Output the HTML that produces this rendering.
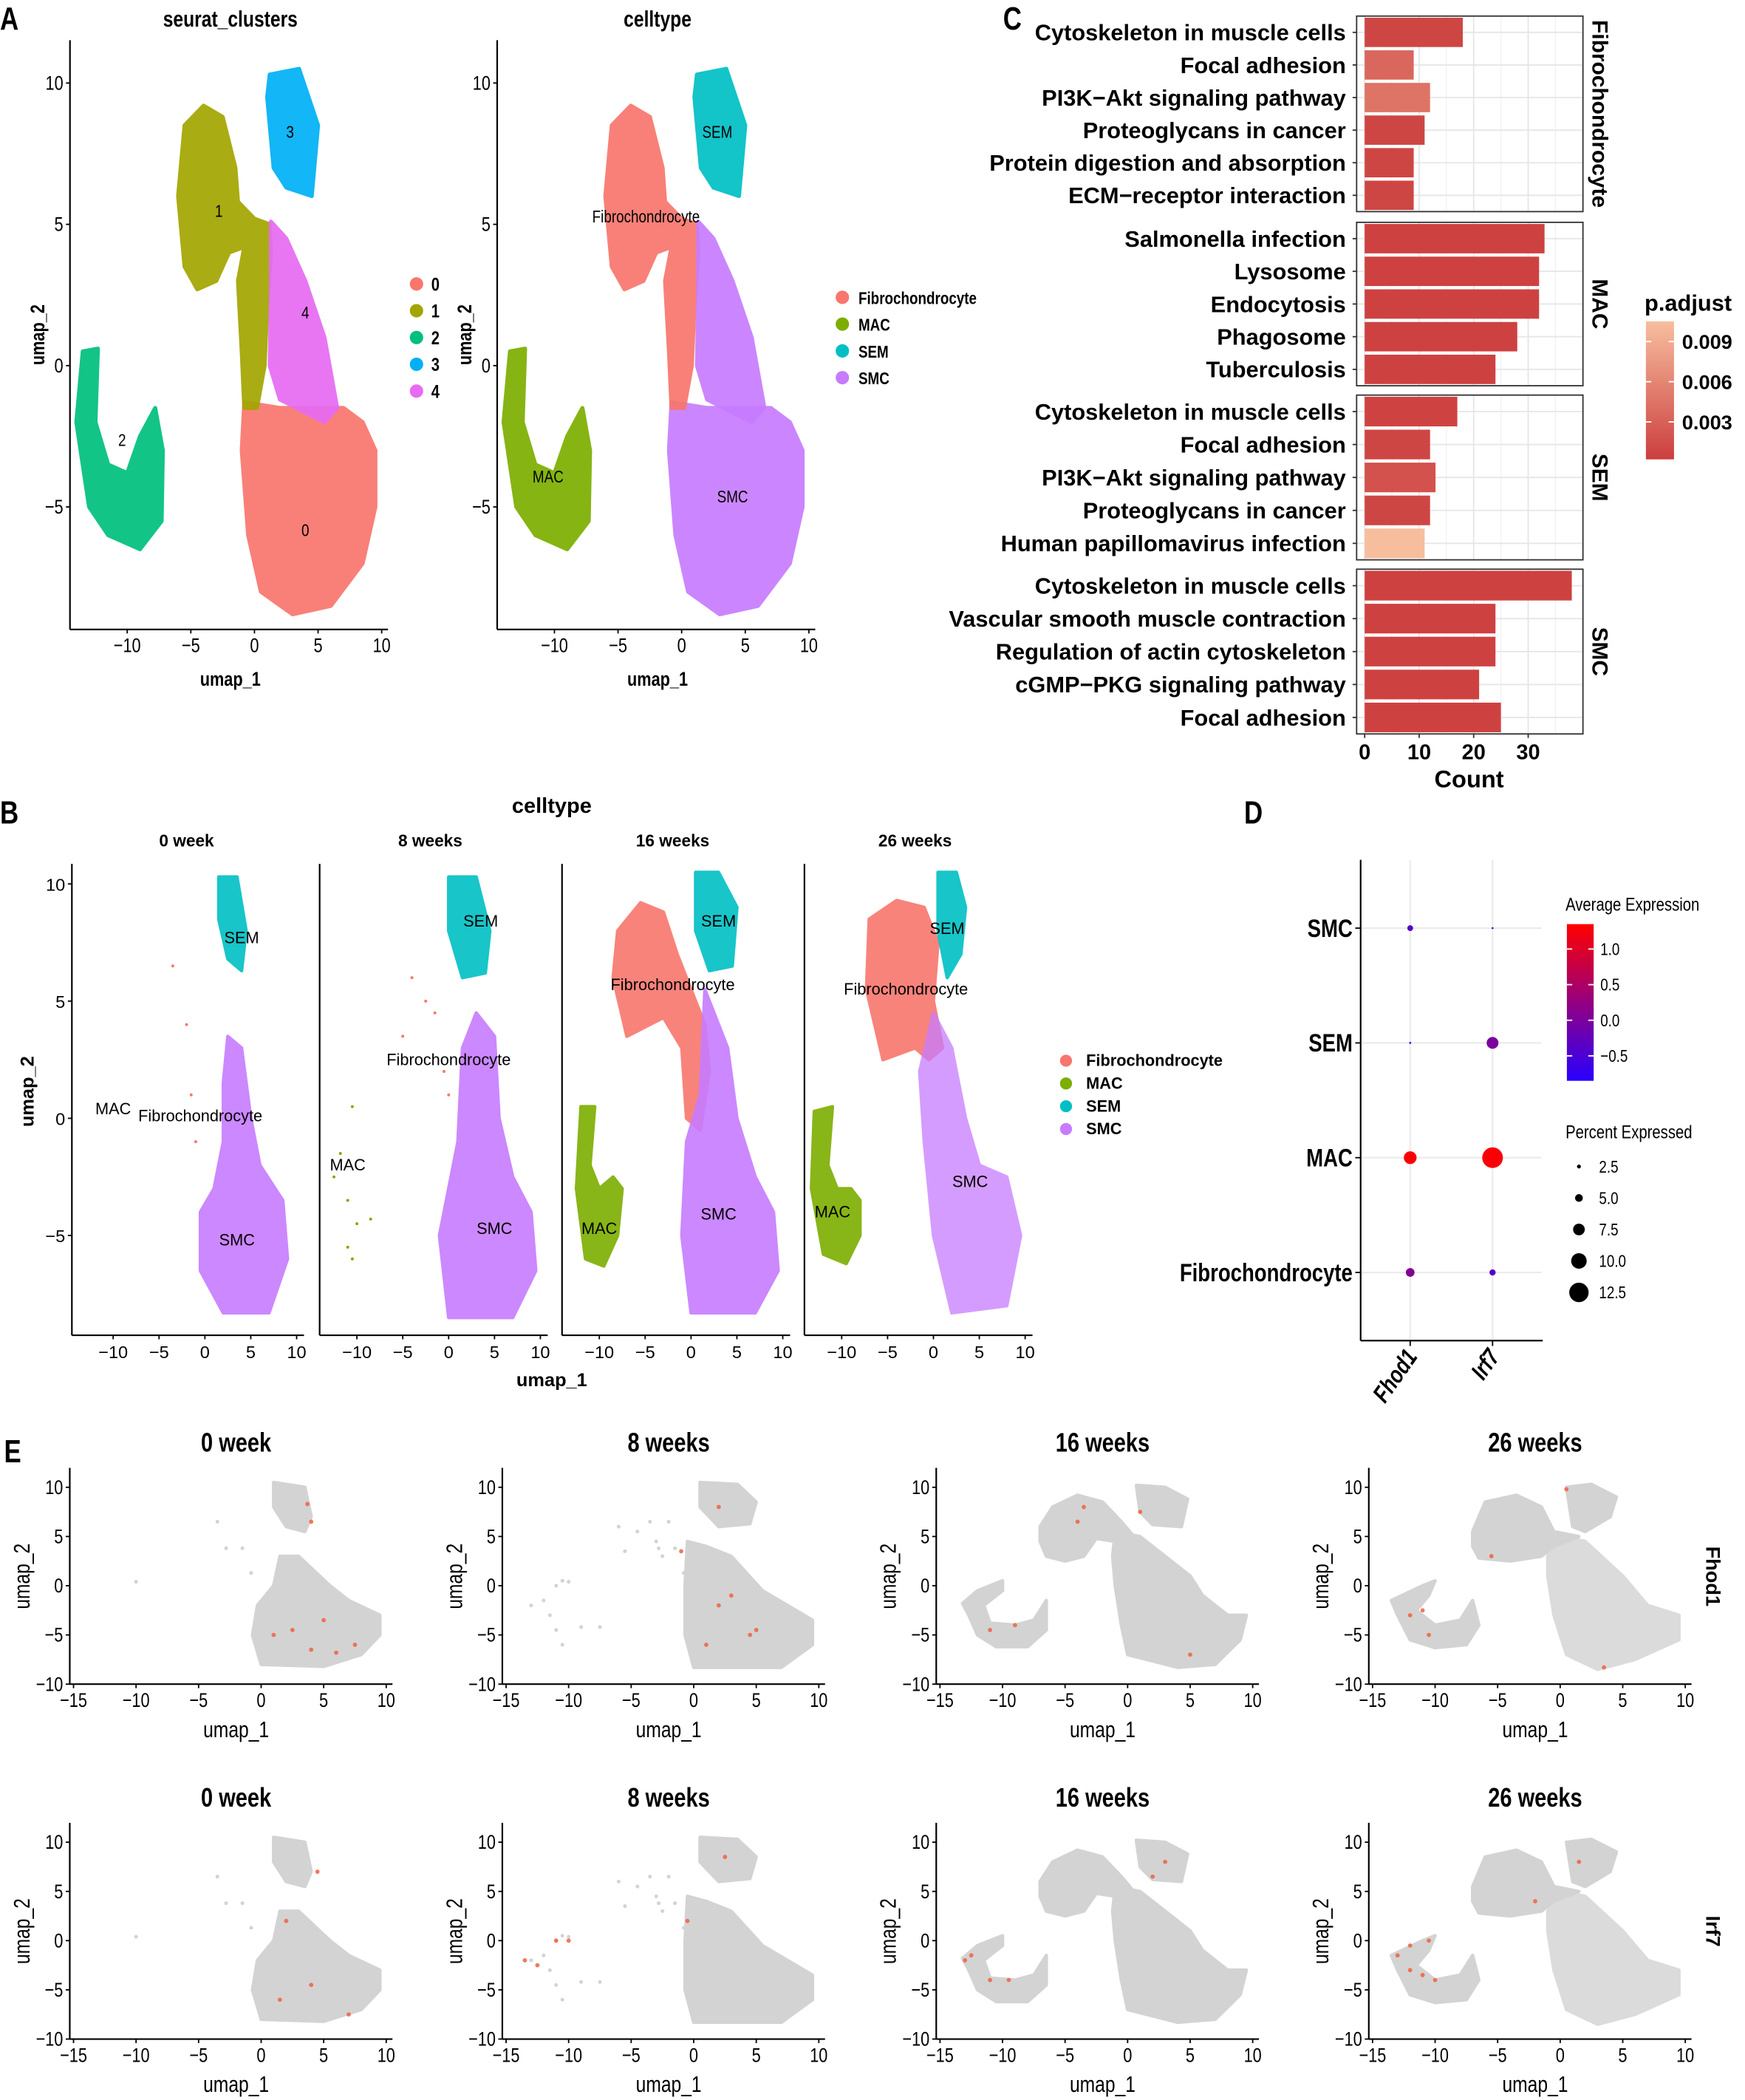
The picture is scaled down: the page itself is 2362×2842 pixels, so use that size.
<!DOCTYPE html>
<html><head><meta charset="utf-8">
<style>
html,body{margin:0;padding:0;background:#fff}
svg{display:block}
text{font-family:"Liberation Sans",sans-serif}
.n{font-family:"Liberation Sans Narrow","Liberation Sans",sans-serif}
</style></head>
<body>
<svg id="fig" xmlns="http://www.w3.org/2000/svg" width="2362" height="2842" viewBox="0 0 1303 1568" preserveAspectRatio="none">
<rect width="1303" height="1568" fill="#fff"/>
</svg>
<script>
// ---------- data ----------
const clusterNames = ["0","1","2","3","4"];
const clusterColors = ["#F8766D","#A3A500","#00BF7D","#00B0F6","#E76BF3"];
const cellTypes = ["Fibrochondrocyte","MAC","SEM","SMC"];
const cellColors = ["#F8766D","#7CAE00","#00BFC4","#C77CFF"];
const shapeA0 = [[-0.8,-1.3],[2,-1.5],[5,-1.5],[7,-1.5],[8.5,-2],[9.5,-3],[9.5,-5],[8.5,-7],[6,-8.5],[3,-8.8],[0.5,-8],[-0.5,-6],[-1,-3]];
const shapeA1 = [[-5.5,8.5],[-4,9.2],[-2.5,8.8],[-1.5,7],[-1.3,5.8],[0,5.2],[1.2,5],[1.3,4],[1,2],[0.8,0],[0.2,-1.5],[-0.8,-1.5],[-1,0.5],[-1.3,3],[-0.8,4.2],[-2,4],[-3,3],[-4.5,2.7],[-5.5,3.5],[-6,6]];
const shapeA2 = [[-13.5,0.5],[-12.3,0.6],[-12.5,-2],[-11.5,-3.5],[-10,-3.8],[-9,-2.5],[-7.8,-1.5],[-7.2,-3],[-7.3,-5.5],[-9,-6.5],[-11.5,-6],[-13,-5],[-14,-2]];
const shapeA3 = [[1.2,10.3],[3.5,10.5],[5,8.5],[4.5,6],[2.5,6.3],[1.5,7],[1,9.5]];
const shapeA4 = [[1.3,5.1],[2.5,4.5],[4,3],[5.5,1],[6.5,-1.5],[5.5,-2],[2,-1.2],[1.2,0],[1.3,2.5]];
const clusterShapes = [shapeA0,shapeA1,shapeA2,shapeA3,shapeA4];
const cellOfCluster = [3,0,1,2,3];
const timepoints = ["0 week","8 weeks","16 weeks","26 weeks"];
const shapesB = [
 [[2,[[1.5,10.3],[3.5,10.3],[4.5,8],[4,6.3],[2.5,6.8],[1.5,8.5]]],
  [3,[[2.5,3.5],[4,3],[5,0],[6,-2],[8.5,-3.5],[9,-6],[7,-8.3],[2,-8.3],[-0.5,-6.5],[-0.5,-4],[1,-3],[2,-1],[2,1.5]]]],
 [[2,[[0,10.3],[3,10.3],[4.5,8],[4,6.2],[1.5,6],[0,8]]],
  [3,[[3,4.5],[5,3.5],[5.5,0],[7,-2.5],[9,-4],[9.5,-6.5],[7,-8.5],[0,-8.5],[-1,-5],[0,-3],[1,-1],[1.5,3]]]],
 [[0,[[-8,8],[-5.5,9.2],[-3,8.8],[-1.5,7],[0,5.5],[1.5,4],[2,2],[1,-0.5],[-0.5,0],[-1,3],[-3,4.3],[-7,3.5],[-8.5,6]]],
  [2,[[0.5,10.5],[3,10.5],[5,9],[4.5,6.5],[2,6.3],[0.5,8]]],
  [3,[[1.5,5.5],[4,3],[5,0],[7,-2.5],[9,-4],[9.5,-6.5],[7,-8.3],[0,-8.3],[-1,-5],[-0.5,-1],[1,1]]],
  [1,[[-12,0.5],[-10.5,0.5],[-11,-2],[-10,-3],[-8.5,-2.5],[-7.5,-3],[-8,-5],[-9.5,-6.3],[-11.5,-6],[-12.5,-3]]]],
 [[0,[[-7,8.5],[-4,9.3],[-1,9],[0.5,7.5],[0,5],[1,3],[-0.5,2.5],[-2,3],[-5.5,2.5],[-7.3,5.5]]],
  [2,[[0.5,10.5],[2.5,10.5],[3.5,9],[3,7],[1.5,6],[0.5,8]]],
  [3,[[0,4.5],[2,3],[3.5,0],[5,-2],[8,-2.5],[9.5,-5],[8,-8],[2,-8.3],[0,-5],[-1,-1],[-1.5,2]]],
  [1,[[-13,0.3],[-11,0.5],[-11.5,-2],[-10.5,-3],[-9,-3],[-8,-3.5],[-8,-5],[-9.5,-6.2],[-12,-5.8],[-13.3,-3]]]]
];
const labelsB = [
 [["SEM",4,7.7],["MAC",-10,0.4],["Fibrochondrocyte",-0.5,0.1],["SMC",3.5,-5.2]],
 [["SEM",3.5,8.4],["Fibrochondrocyte",0,2.5],["MAC",-11,-2],["SMC",5,-4.7]],
 [["SEM",3,8.4],["Fibrochondrocyte",-2,5.7],["MAC",-10,-4.7],["SMC",3,-4.1]],
 [["SEM",1.5,8.1],["Fibrochondrocyte",-3,5.5],["MAC",-11,-4],["SMC",4,-2.7]]
];
const shapesE = [
 [[[1,10.5],[3.5,10],[4,7],[3.5,5.5],[2,6],[1,8]],[[1.5,3],[3,3],[5.5,0],[7,-1.5],[9.5,-3],[9.5,-5],[8,-7],[5,-8.2],[0,-8],[-0.7,-5],[-0.3,-2],[1,0]]],
 [[[0.5,10.5],[3.5,10.3],[5,8.5],[4.5,6.3],[2,6],[0.5,8]],[[-0.5,4.5],[1,4],[3,3],[5.5,-0.5],[9.5,-3.5],[9.5,-6],[7,-8.3],[0,-8.3],[-0.7,-5],[-0.7,0]]],
 [[[-13.2,-1.8],[-12,-0.5],[-10,0.5],[-10,-0.5],[-11.5,-2],[-11,-3.8],[-9,-4],[-7.5,-3.5],[-6.5,-1.5],[-6.5,-4.5],[-8,-6.2],[-10.5,-6.2],[-12,-5],[-12.7,-3]],
  [[-7,6],[-6,8],[-4,9.2],[-2,8.5],[-0.5,6.5],[0.5,5],[-1,4.5],[-2.5,4.8],[-3.5,3],[-5,2.5],[-6.5,3],[-7,4.5]],
  [[0.7,10.2],[3,10],[4.8,8.8],[4.3,6],[2,6.2],[1,7.5]],
  [[-1,5.5],[1,5],[3,3],[5,1],[6,-1],[8,-3],[9.5,-3],[9,-5.5],[7,-8],[4,-8.3],[0,-7],[-0.5,-4],[-1,0],[-1.2,3]]],
 [[[-13.5,-1.5],[-11,0],[-10,0.5],[-10.5,-1],[-11.5,-2.5],[-10,-4],[-8,-3.5],[-7,-1.5],[-6.5,-4],[-7.5,-6],[-10,-6.3],[-12,-5.5],[-13,-3]],
  [[-7,5.5],[-6,8.5],[-3.5,9.2],[-1.5,8],[-0.5,5.5],[1.5,5],[-0.5,4],[-1.5,3],[-4,2.5],[-6.5,2.8],[-7,4]],
  [[0.5,10],[2.5,10.3],[4.5,9],[4,7],[2,5.5],[1,6]],
  [[0,5],[2,4.5],[5,1],[7,-2],[9.5,-3],[9.5,-5.5],[6,-7.5],[3,-8.5],[0.5,-7],[-0.5,-3],[-1,1],[-1,3]]]
];
const genes = ["Fhod1","Irf7"];
const redDotsE = [
 [[[2.5,-4.5],[4,-6.5],[6,-6.8],[1,-5],[5,-3.5],[3.7,8.3],[4,6.5],[7.5,-6]],[[1.5,-6],[4.5,7],[2,2],[4,-4.5],[7,-7.5]]],
 [[[2,-2],[4.5,-5],[5,-4.5],[1,-6],[3,-1],[2,8],[-1,3.5]],[[-13.5,-2],[-12.5,-2.5],[-11,0],[-10,0],[-0.5,2],[2.5,8.5]]],
 [[[-4,6.5],[-11,-4.5],[-9,-4],[1,7.5],[-3.5,8],[5,-7]],[[-13,-2],[-12.5,-1.5],[-11,-4],[-9.5,-4],[3,8],[2,6.5]]],
 [[[0.5,9.8],[-12,-3],[-10.5,-5],[-11,-2.5],[-5.5,3],[3.5,-8.3]],[[-13,-1.5],[-12,-0.5],[-10.5,0],[-11,-3.5],[-10,-4],[-12,-3],[-2,4],[1.5,8]]]
];
const pathwaysFib = ["Cytoskeleton in muscle cells","Focal adhesion","PI3K\u2212Akt signaling pathway","Proteoglycans in cancer","Protein digestion and absorption","ECM\u2212receptor interaction"];
const countsFib = [18,9,12,11,9,9];
const padjFib = [0.0008,0.0035,0.0045,0.0008,0.0008,0.0008];
const pathwaysMac = ["Salmonella infection","Lysosome","Endocytosis","Phagosome","Tuberculosis"];
const countsMac = [33,32,32,28,24];
const padjMac = [0.0005,0.0005,0.0005,0.0005,0.0005];
const pathwaysSem = ["Cytoskeleton in muscle cells","Focal adhesion","PI3K\u2212Akt signaling pathway","Proteoglycans in cancer","Human papillomavirus infection"];
const countsSem = [17,12,13,12,11];
const padjSem = [0.0006,0.0008,0.0018,0.0008,0.0105];
const pathwaysSmc = ["Cytoskeleton in muscle cells","Vascular smooth muscle contraction","Regulation of actin cytoskeleton","cGMP\u2212PKG signaling pathway","Focal adhesion"];
const countsSmc = [38,24,24,21,25];
const padjSmc = [0.0005,0.0005,0.0005,0.0005,0.0005];
const countTicks = [0,10,20,30];
const padjTicks = [0.003,0.006,0.009];
const dotRows = ["SMC","SEM","MAC","Fibrochondrocyte"];
const avgExpFhod1 = [-0.4,-0.7,1.3,0.1];
const avgExpIrf7 = [-0.7,0.0,1.3,-0.4];
const pctFhod1 = [3.7,1.3,8.2,5.6];
const pctIrf7 = [1.2,7.6,13.3,4.0];
const expTicks = [1.0,0.5,0.0,-0.5];
const pctTicks = [2.5,5.0,7.5,10.0,12.5];

// ---------- helpers ----------
const NS="http://www.w3.org/2000/svg";
const svg=document.getElementById('fig');
function mk(tag,attrs,parent){const e=document.createElementNS(NS,tag);for(const k in attrs)e.setAttribute(k,attrs[k]);(parent||svg).appendChild(e);return e;}
function txt(s,x,y,opt,parent){const e=mk('text',Object.assign({x:x,y:y},opt||{}),parent);e.textContent=s;return e;}
function poly(pts,sx,sy){return 'M'+pts.map(p=>sx(p[0]).toFixed(1)+','+sy(p[1]).toFixed(1)).join('L')+'Z';}
function axes(g,sx,sy,xl,xr,yt,yb,xticks,yticks,fs,cls){
  let e=mk('line',{x1:xl,y1:yb,x2:xr,y2:yb,stroke:'#000','stroke-width':1.2},g);
  
  e=mk('line',{x1:xl,y1:yt,x2:xl,y2:yb,stroke:'#000','stroke-width':1.2},g);
  
  xticks.forEach(t=>{mk('line',{x1:sx(t),x2:sx(t),y1:yb,y2:yb+3,stroke:'#000'},g);
    const l=txt(String(t).replace('-','\u2212'),sx(t),yb+17,{'font-size':fs,'text-anchor':'middle',class:cls||''},g);
    });
  yticks.forEach(t=>{mk('line',{x1:xl-3,x2:xl,y1:sy(t),y2:sy(t),stroke:'#000'},g);
    const l=txt(String(t).replace('-','\u2212'),xl-5,sy(t)+5,{'font-size':fs,'text-anchor':'end',class:cls||''},g);
    });
}
function letter(s,x,y){const e=txt(s,x,y,{'font-size':24,'font-weight':'bold',class:'n'});}

// ---------- Panel A ----------
letter('A',0,22);
[0,1].forEach(pi=>{
  const g=mk('g',{});
  const x0=pi?509:190, sx=u=>x0+u*9.5, sy=v=>273-v*21.1;
  clusterShapes.forEach((s,i)=>{const col=pi?cellColors[cellOfCluster[i]]:clusterColors[i];
    const p=mk('path',{d:poly(s,sx,sy),fill:col,stroke:col,'stroke-width':3,'stroke-linejoin':'round',opacity:0.92},g);
    });
  axes(g,sx,sy,x0-14.5*9.5,x0+10.5*9.5,30,470,[-10,-5,0,5,10],[-5,0,5,10],15,'n');
  const t=txt(pi?'celltype':'seurat_clusters',x0-18,20,{'font-size':17,'font-weight':'bold','text-anchor':'middle',class:'n'},g);
  
  let l=txt('umap_1',x0-18,512,{'font-size':15,'font-weight':'bold','text-anchor':'middle',class:'n'},g);
  
  l=txt('umap_2',0,0,{'font-size':15,'font-weight':'bold','text-anchor':'middle',class:'n',transform:`translate(${x0-157},250) rotate(-90)`},g);
  
  if(!pi){
    [["0",4,-5.8],["1",-2.8,5.5],["2",-10.4,-2.6],["3",2.8,8.3],["4",4,1.9]].forEach(a=>{const e=txt(a[0],sx(a[1]),sy(a[2])+5,{'font-size':13,'text-anchor':'middle',class:'n'},g);});
    clusterNames.forEach((c,i)=>{const it=mk('g',{},g);
      mk('circle',{cx:311,cy:212+i*20,r:5,fill:clusterColors[i]},it);txt(c,322,217+i*20,{'font-size':14,'font-weight':'bold',class:'n'},it);});
  } else {
    [["SEM",2.8,8.3],["Fibrochondrocyte",-2.8,5.3],["MAC",-10.5,-3.9],["SMC",4,-4.6]].forEach(a=>{const e=txt(a[0],sx(a[1]),sy(a[2])+5,{'font-size':13,'text-anchor':'middle',class:'n'},g);});
    cellTypes.forEach((c,i)=>{const it=mk('g',{},g);
      mk('circle',{cx:629,cy:222+i*20,r:5,fill:cellColors[i]},it);txt(c,641,227+i*20,{'font-size':13,'font-weight':'bold',class:'n'},it);});
  }
});

// ---------- Panel B ----------
letter('B',0,615);
{
 const t=txt('celltype',412,607,{'font-size':16,'font-weight':'bold','text-anchor':'middle'});
 const bx=[153,335,516,697];
 timepoints.forEach((tp,i)=>{
  const g=mk('g',{});
  const x0=bx[i],sx=u=>x0+u*6.85,sy=v=>835-v*17.5;
  shapesB[i].forEach(s=>{const col=cellColors[s[0]];const p=mk('path',{d:poly(s[1],sx,sy),fill:col,stroke:col,'stroke-width':2.5,'stroke-linejoin':'round',opacity:i==3&&s[0]==3?0.75:0.9},g);
    });
  if(i==1){[[-11.8,-1.5],[-12.5,-2.5],[-11,-3.5],[-10,-4.5],[-8.5,-4.3],[-10.5,0.5],[-11,-5.5],[-10.5,-6]].forEach(d=>{const c=mk('circle',{cx:sx(d[0]),cy:sy(d[1]),r:1.1,fill:cellColors[1]},g);});
    [[-4,6],[-2.5,5],[-1.5,4.5],[-0.5,2],[0,1],[-5,3.5]].forEach(d=>{const c=mk('circle',{cx:sx(d[0]),cy:sy(d[1]),r:1.1,fill:cellColors[0]},g);});}
  if(i==0){[[-1.5,1],[-1,-1],[-3.5,6.5],[-2,4]].forEach(d=>{const c=mk('circle',{cx:sx(d[0]),cy:sy(d[1]),r:1.1,fill:cellColors[0]},g);});}
  axes(g,sx,sy,x0-14.5*6.85+(i?3:0),x0+10.8*6.85,645,997,[-10,-5,0,5,10],i==0?[-5,0,5,10]:[],13,'');
  const tt=txt(tp,sx(-2),632,{'font-size':12.5,'font-weight':'bold','text-anchor':'middle'},g);
  labelsB[i].forEach(a=>{const e=txt(a[0],sx(a[1]),sy(a[2])+4,{'font-size':12,'text-anchor':'middle'},g);});
 });
 let l=txt('umap_1',412,1035,{'font-size':14,'font-weight':'bold','text-anchor':'middle'});
 l=txt('umap_2',0,0,{'font-size':14,'font-weight':'bold','text-anchor':'middle',transform:'translate(25,815) rotate(-90)'});
 cellTypes.forEach((c,i)=>{const it=mk('g',{});
   mk('circle',{cx:796,cy:792+i*17,r:4.5,fill:cellColors[i]},it);txt(c,811,796+i*17,{'font-size':12,'font-weight':'bold'},it);});
}

// ---------- Panel C ----------
letter('C',749,22);
{
 const cx0=1019, cs=4.07, sxc=v=>cx0+v*cs, pxr=1182;
 function padjColor(p){const t=Math.min(1,Math.max(0,p/0.0105));const a=[203,60,60],b=[247,190,158];return `rgb(${a.map((c,i)=>Math.round(c+(b[i]-c)*t)).join(',')})`;}
 const facets=[["Fibrochondrocyte",pathwaysFib,countsFib,padjFib,12,158],["MAC",pathwaysMac,countsMac,padjMac,166,288],["SEM",pathwaysSem,countsSem,padjSem,295,418],["SMC",pathwaysSmc,countsSmc,padjSmc,425,548]];
 facets.forEach(f=>{
  const g=mk('g',{});
  const top=f[4],bot=f[5],n=f[1].length,step=(bot-top)/n;
  [5,15,25,35].forEach(t=>mk('line',{x1:sxc(t),x2:sxc(t),y1:top,y2:bot,stroke:'#F2F2F2','stroke-width':0.8},g));
  countTicks.forEach(t=>mk('line',{x1:sxc(t),x2:sxc(t),y1:top,y2:bot,stroke:'#E6E6E6','stroke-width':1},g));
  f[1].forEach((name,i)=>{const cy=top+step*(i+0.5);
    mk('line',{x1:1013,x2:pxr,y1:cy,y2:cy,stroke:'#E6E6E6'},g);
    const r=mk('rect',{x:sxc(0),y:cy-step*0.45,width:sxc(f[2][i])-sxc(0),height:step*0.9,fill:padjColor(f[3][i])},g);
    
    const l=txt(name,1005,cy+6,{'font-size':17,'font-weight':'bold','text-anchor':'end'},g);
    mk('line',{x1:1010,x2:1013,y1:cy,y2:cy,stroke:'#333'},g);
  });
  mk('rect',{x:1013,y:top,width:pxr-1013,height:bot-top,fill:'none',stroke:'#333','stroke-width':1},g);
  const s=txt(f[0],0,0,{'font-size':16.5,'font-weight':'bold','text-anchor':'middle',transform:`translate(${pxr+7},${(top+bot)/2}) rotate(90)`},g);
  
 });
 countTicks.forEach(t=>{mk('line',{x1:sxc(t),x2:sxc(t),y1:548,y2:551,stroke:'#333'});const l=txt(String(t),sxc(t),567,{'font-size':16,'font-weight':'bold','text-anchor':'middle'});});
 let l=txt('Count',1097,588,{'font-size':18,'font-weight':'bold','text-anchor':'middle'});
 const lg=mk('g',{});
 const defs=mk('defs',{},lg);const gr=mk('linearGradient',{id:'pg',x1:0,y1:1,x2:0,y2:0},defs);
 mk('stop',{offset:0,'stop-color':padjColor(0.0002)},gr);mk('stop',{offset:1,'stop-color':padjColor(0.0105)},gr);
 mk('rect',{x:1229,y:240,width:21,height:103,fill:'url(#pg)'},lg);
 txt('p.adjust',1228,232,{'font-size':17,'font-weight':'bold'},lg);
 const py=p=>343-(p-0.0002)/(0.0105-0.0002)*103;
 padjTicks.forEach(p=>{mk('line',{x1:1229,x2:1233,y1:py(p),y2:py(p),stroke:'#fff'},lg);mk('line',{x1:1246,x2:1250,y1:py(p),y2:py(p),stroke:'#fff'},lg);
   const e=txt(p.toFixed(3),1256,py(p)+5.5,{'font-size':15,'font-weight':'bold'},lg);});
}

// ---------- Panel D ----------
letter('D',929,615);
{
 const g=mk('g',{});
 const rowY=i=>693+i*85.7, colX=j=>1053+j*61.5;
 dotRows.forEach((r,i)=>{mk('line',{x1:1016,x2:1151,y1:rowY(i),y2:rowY(i),stroke:'#EBEBEB','stroke-width':1.2},g);
   mk('line',{x1:1012,x2:1016,y1:rowY(i),y2:rowY(i),stroke:'#000'},g);
   const l=txt(r,1010,rowY(i)+6.5,{'font-size':19,'font-weight':'bold','text-anchor':'end',class:'n'},g);});
 genes.forEach((gn,j)=>{mk('line',{x1:colX(j),x2:colX(j),y1:642,y2:1001,stroke:'#EBEBEB','stroke-width':1.2},g);
   mk('line',{x1:colX(j),x2:colX(j),y1:1001,y2:1005,stroke:'#000'},g);
   const l=txt(gn,0,0,{'font-size':18,'font-weight':'bold','font-style':'italic','text-anchor':'end',class:'n',transform:`translate(${colX(j)+6},1013) rotate(-55)`},g);});
 mk('line',{x1:1016,x2:1016,y1:642,y2:1001,stroke:'#000','stroke-width':1.2},g);
 mk('line',{x1:1016,x2:1152,y1:1001,y2:1001,stroke:'#000','stroke-width':1.2},g);
 function expColor(v){const t=Math.min(1,Math.max(0,(v+0.85)/2.2));return `rgb(${Math.round(40+215*t)},0,${Math.round(255-255*t)})`;}
 const rad=p=>0.58*p;
 [avgExpFhod1,avgExpIrf7].forEach((arr,j)=>{const pc=j?pctIrf7:pctFhod1;arr.forEach((v,i)=>{const c=mk('circle',{cx:colX(j),cy:rowY(i),r:rad(pc[i]),fill:expColor(v)},g);});});
 const defs=mk('defs',{},g);const gr=mk('linearGradient',{id:'eg',x1:0,y1:1,x2:0,y2:0},defs);
 [0,0.5,1].forEach(o=>mk('stop',{offset:o,'stop-color':expColor(-0.85+o*2.2)},gr));
 txt('Average Expression',1169,680,{'font-size':14,class:'n'},g);
 mk('rect',{x:1170,y:690,width:20,height:117,fill:'url(#eg)'},g);
 const ey=v=>807-(v+0.85)/2.2*117;
 expTicks.forEach(v=>{mk('line',{x1:1170,x2:1174,y1:ey(v),y2:ey(v),stroke:'#fff'},g);mk('line',{x1:1186,x2:1190,y1:ey(v),y2:ey(v),stroke:'#fff'},g);
   const e=txt(v.toFixed(1).replace('-','\u2212'),1195,ey(v)+4.5,{'font-size':13,class:'n'},g);});
 txt('Percent Expressed',1169,850,{'font-size':14,class:'n'},g);
 pctTicks.forEach((p,i)=>{const y=871+i*23.5;mk('circle',{cx:1179,cy:y,r:rad(p),fill:'#000'},g);
   const e=txt(p.toFixed(1),1194,y+4.5,{'font-size':13,class:'n'},g);});
}

// ---------- Panel E ----------
letter('E',3,1092);
{
 const ex=[195,518,842,1165], ey0=[1184,1449];
 genes.forEach((gn,r)=>{
  timepoints.forEach((tp,c)=>{
   const g=mk('g',{});
   const x0=ex[c],y0=ey0[r],sx=u=>x0+u*9.34,sy=v=>y0-v*7.35;
   shapesE[c].forEach((s,k)=>{const p=mk('path',{d:poly(s,sx,sy),fill:'#D3D3D3',stroke:'#D3D3D3','stroke-width':2.5,'stroke-linejoin':'round',opacity:(c==3&&k==3)?0.8:1},g);
     });
   if(c<2){[[-10,0.4],[-3.5,6.5],[-2.8,3.8],[-1.5,3.8],[-0.8,1.3]].forEach(d=>{const e=mk('circle',{cx:sx(d[0]),cy:sy(d[1]),r:1.4,fill:'#D3D3D3'},g);});}
   if(c==1){[[-13,-2],[-12,-1.5],[-11.5,-3],[-11,-4.5],[-10.5,-6],[-9,-4.2],[-7.5,-4.2],[-11,0],[-10.5,0.5],[-6,6],[-5.5,3.5],[-4.5,5.5],[-3,4.5],[-2.5,3],[-2,6.5]].forEach(d=>{const e=mk('circle',{cx:sx(d[0]),cy:sy(d[1]),r:1.4,fill:'#D3D3D3'},g);});}
   redDotsE[c][r].forEach(d=>{const e=mk('circle',{cx:sx(d[0]),cy:sy(d[1]),r:1.6,fill:'#F06040',opacity:0.85},g);});
   axes(g,sx,sy,x0-15.3*9.34,x0+10.5*9.34,y0-88,y0+73.5,[-15,-10,-5,0,5,10],[-10,-5,0,5,10],15,'n');
   let t=txt(tp,sx(-2),y0-100,{'font-size':20,'font-weight':'bold','text-anchor':'middle',class:'n'},g);
   t=txt('umap_1',sx(-2),y0+113,{'font-size':17,'text-anchor':'middle',class:'n'},g);
   t=txt('umap_2',0,0,{'font-size':17,'text-anchor':'middle',class:'n',transform:`translate(${x0-173},${y0-7}) rotate(-90)`},g);
  });
  const l=txt(gn,0,0,{'font-size':15,'font-weight':'bold','text-anchor':'middle',transform:`translate(1274,${ey0[r]-7}) rotate(90)`});
 });
}
// emulate condensed font
document.querySelectorAll('text.n').forEach(t=>{const w=t.getComputedTextLength();if(w>0){t.setAttribute('textLength',(w*0.8).toFixed(1));t.setAttribute('lengthAdjust','spacingAndGlyphs');}});
</script>
</body></html>
